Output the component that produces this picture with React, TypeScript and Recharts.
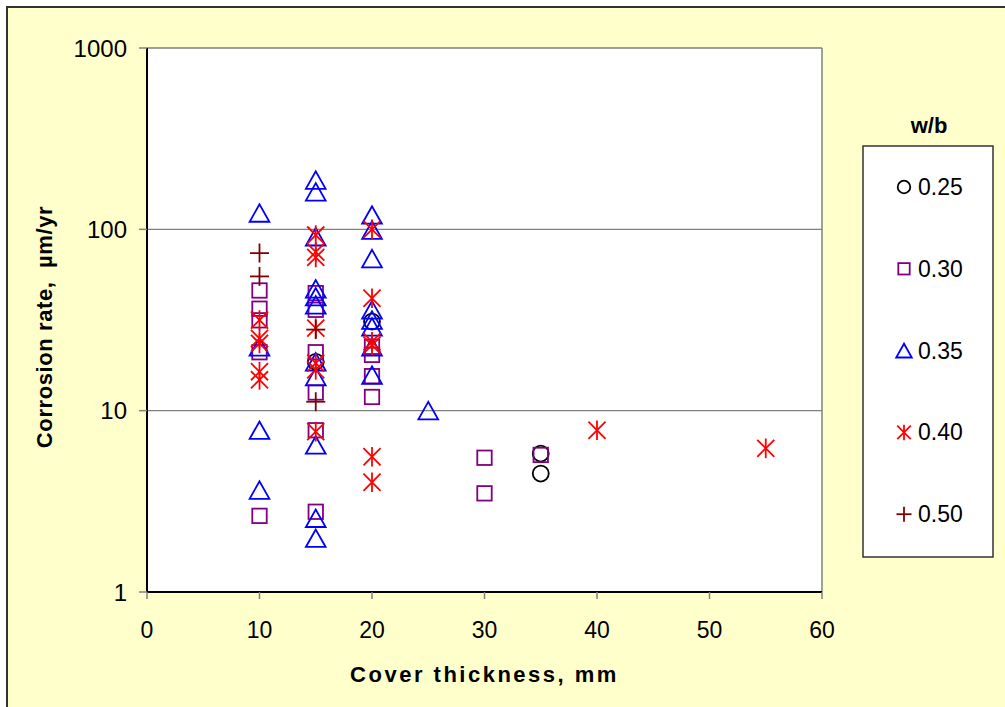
import { ScatterChart, Scatter, XAxis, YAxis, CartesianGrid, ReferenceLine, Legend } from 'recharts';

// cover thickness (mm) and corrosion rate (µm/yr) per w/b ratio
const cover025 = [15, 20, 35, 35];
const rate025 = [18.6, 31, 5.8, 4.5];

const cover030 = [10, 10, 10, 10, 10, 15, 15, 15, 15, 15, 15, 20, 20, 20, 20, 30, 30, 35];
const rate030 = [46, 36.5, 31.5, 21, 2.63, 44.5, 36, 21, 12.6, 7.8, 2.77, 22.5, 20.3, 15.5, 11.9, 5.5, 3.5, 5.7];

const cover035 = [10, 10, 10, 10, 15, 15, 15, 15, 15, 15, 15, 15, 15, 15, 15, 20, 20, 20, 20, 20, 20, 20, 20, 25];
const rate035 = [123, 22.5, 7.8, 3.65, 187, 161, 91, 47, 42.5, 38.3, 18.6, 15.4, 6.47, 2.55, 1.98, 120, 99, 69, 36, 31.6, 29, 22.5, 15.7, 10];

const cover040 = [10, 10, 10, 10, 10, 15, 15, 15, 15, 15, 15, 15, 20, 20, 20, 20, 20, 20, 40, 55];
const rate040 = [31.6, 25, 23.5, 16.4, 14.8, 93, 75, 70, 28.5, 18.3, 16.8, 7.66, 100, 41.7, 24, 23, 5.57, 4.03, 7.8, 6.2];

const cover050 = [10, 10, 15, 15];
const rate050 = [74, 55, 28, 11.2];

const xTicks = [0, 10, 20, 30, 40, 50, 60];
const yTicks = [1, 10, 100, 1000];

type Kind = 'circle' | 'square' | 'triangle' | 'asterisk' | 'plus';

const zip = (xs: number[], ys: number[]) => xs.map((x, i) => ({ x, y: ys[i] }));

const series: { name: string; kind: Kind; color: string; data: { x: number; y: number }[] }[] = [
  { name: '0.25', kind: 'circle', color: '#000000', data: zip(cover025, rate025) },
  { name: '0.30', kind: 'square', color: '#800080', data: zip(cover030, rate030) },
  { name: '0.35', kind: 'triangle', color: '#0000FF', data: zip(cover035, rate035) },
  { name: '0.40', kind: 'asterisk', color: '#FF0000', data: zip(cover040, rate040) },
  { name: '0.50', kind: 'plus', color: '#800000', data: zip(cover050, rate050) },
];

const FONT = '"Liberation Sans", Arial, sans-serif';

function marker(kind: Kind, cx: number, cy: number, s: number, color: string) {
  const sw = 1.8;
  switch (kind) {
    case 'circle':
      return <circle cx={cx} cy={cy} r={s * 0.42} fill="none" stroke={color} strokeWidth={sw} />;
    case 'square':
      return <rect x={cx - s * 0.38} y={cy - s * 0.38} width={s * 0.76} height={s * 0.76} fill="none" stroke={color} strokeWidth={sw} />;
    case 'triangle': {
      const w = s * 0.52, h = s * 0.46;
      return <polygon points={`${cx},${cy - h} ${cx - w},${cy + h} ${cx + w},${cy + h}`} fill="none" stroke={color} strokeWidth={sw} />;
    }
    case 'asterisk': {
      const r = s * 0.45;
      return (
        <g stroke={color} strokeWidth={sw}>
          <line x1={cx - r} y1={cy - r} x2={cx + r} y2={cy + r} />
          <line x1={cx - r} y1={cy + r} x2={cx + r} y2={cy - r} />
          <line x1={cx} y1={cy - r * 1.15} x2={cx} y2={cy + r * 1.15} />
        </g>
      );
    }
    case 'plus': {
      const r = s * 0.5;
      return (
        <g stroke={color} strokeWidth={sw}>
          <line x1={cx - r} y1={cy} x2={cx + r} y2={cy} />
          <line x1={cx} y1={cy - r} x2={cx} y2={cy + r} />
        </g>
      );
    }
  }
}

const shapeFor = (kind: Kind, color: string) => (props: any) => marker(kind, props.cx, props.cy, 19, color);

const YLabel = ({ viewBox }: any) => {
  const x = viewBox.x + 35;
  const y = viewBox.y + viewBox.height / 2 + 7;
  return (
    <text x={x} y={y} transform={`rotate(-90 ${x} ${y})`} textAnchor="middle" fontFamily={FONT} fontSize={22} fontWeight="bold" letterSpacing={0.6} fill="#000">
      {'Corrosion rate,\u00A0 µm/yr'}
    </text>
  );
};

const XLabel = ({ viewBox }: any) => (
  <text x={viewBox.x + viewBox.width / 2} y={viewBox.y + 90} textAnchor="middle" fontFamily={FONT} fontSize={22} fontWeight="bold" letterSpacing={2.5} fill="#000">
    Cover thickness, mm
  </text>
);

const LegendBox = () => (
  <svg width={134} height={456} style={{ display: 'block', overflow: 'visible' }}>
    <text x={67} y={28} textAnchor="middle" fontFamily={FONT} fontSize={22} fontWeight="bold" fill="#000">w/b</text>
    <rect x={1} y={41} width={130} height={411} fill="#fff" stroke="#333" strokeWidth={1.5} />
    {series.map((s, i) => {
      const cy = 82 + i * 81.8;
      return (
        <g key={s.name}>
          {marker(s.kind, 42, cy, 15, s.color)}
          <text x={56} y={cy + 8} fontFamily={FONT} fontSize={23} fill="#000">{s.name}</text>
        </g>
      );
    })}
  </svg>
);

export default function App() {
  return (
    <div style={{ position: 'fixed', left: 0, top: 0, width: 1005, height: 707, overflow: 'hidden', background: '#fff' }}>
      <div style={{ position: 'absolute', left: 6, top: 6, width: 1100, height: 800, background: '#FFFFCC', borderLeft: '2px solid #333', borderTop: '2px solid #333' }} />
      <div style={{ position: 'absolute', left: 0, top: 0 }}>
        <ScatterChart width={1005} height={707} margin={{ top: 48, right: 49, bottom: 15, left: 17 }}>
          <CartesianGrid fill="#fff" vertical={false} stroke="#808080" strokeWidth={1.3} />
          <ReferenceLine x={60} stroke="#808080" strokeWidth={1.5} />
          <XAxis
            type="number"
            dataKey="x"
            domain={[0, 60]}
            ticks={xTicks}
            height={100}
            axisLine={{ stroke: '#000', strokeWidth: 2 }}
            tickLine={{ stroke: '#808080', strokeWidth: 1.5 }}
            tickSize={7}
            tickMargin={23}
            tick={{ fill: '#000', fontSize: 23, fontFamily: FONT }}
            label={<XLabel />}
          />
          <YAxis
            type="number"
            dataKey="y"
            scale="log"
            domain={[1, 1000]}
            ticks={yTicks}
            allowDataOverflow
            width={130}
            axisLine={{ stroke: '#000', strokeWidth: 2 }}
            tickLine={{ stroke: '#808080', strokeWidth: 1.5 }}
            tickSize={8}
            tickMargin={12}
            tick={{ fill: '#000', fontSize: 24, fontFamily: FONT }}
            label={<YLabel />}
          />
          <Legend
            layout="vertical"
            align="right"
            verticalAlign="middle"
            content={<LegendBox />}
            wrapperStyle={{ left: 862, top: 105, width: 134, height: 456 }}
          />
          {series.map((s) => (
            <Scatter key={s.name} name={s.name} data={s.data} fill={s.color} shape={shapeFor(s.kind, s.color)} isAnimationActive={false} />
          ))}
        </ScatterChart>
      </div>
    </div>
  );
}
